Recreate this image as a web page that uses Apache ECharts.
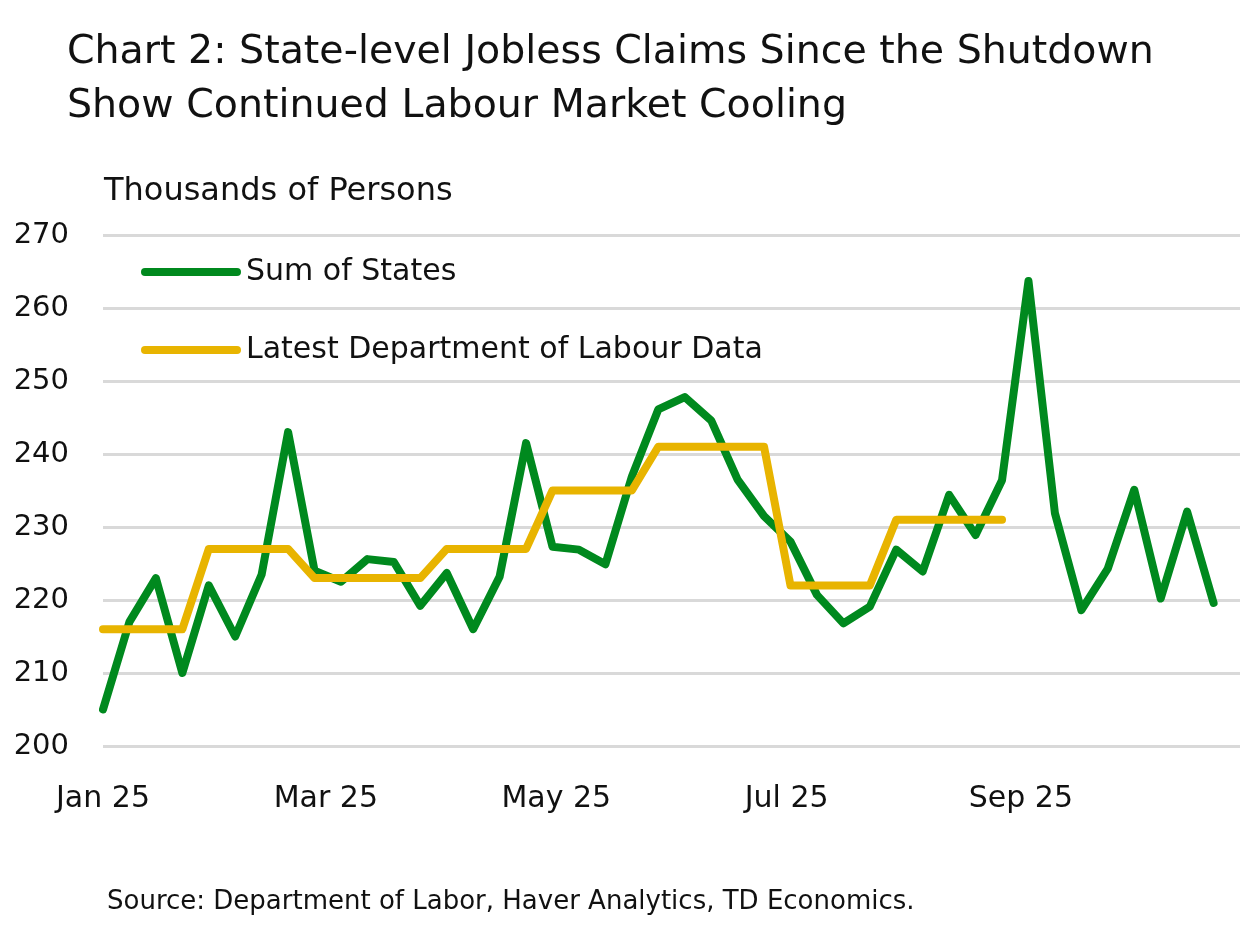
<!DOCTYPE html>
<html>
<head>
<meta charset="utf-8">
<script src="https://cdn.jsdelivr.net/npm/echarts@6/dist/echarts.min.js"></script>
<style>html,body{margin:0;padding:0;background:#fff}#c{width:1240px;height:925px}</style>
</head>
<body>
<div id="c"></div>
<script>
// Weekly observations (chart positions weeks from Jan 1, 2025)
const weekDates = [
  '2025-01-01','2025-01-08','2025-01-15','2025-01-22','2025-01-29','2025-02-05','2025-02-12','2025-02-19',
  '2025-02-26','2025-03-05','2025-03-12','2025-03-19','2025-03-26','2025-04-02','2025-04-09','2025-04-16',
  '2025-04-23','2025-04-30','2025-05-07','2025-05-14','2025-05-21','2025-05-28','2025-06-04','2025-06-11',
  '2025-06-18','2025-06-25','2025-07-02','2025-07-09','2025-07-16','2025-07-23','2025-07-30','2025-08-06',
  '2025-08-13','2025-08-20','2025-08-27','2025-09-03','2025-09-10','2025-09-17','2025-09-24','2025-10-01',
  '2025-10-08','2025-10-15','2025-10-22'
];
const sumOfStates = [
  205, 217, 223, 210, 222, 215, 223.5, 243, 224, 222.5, 225.6, 225.2, 219.2, 223.7, 216, 223.2,
  241.5, 227.3, 226.9, 224.9, 236.9, 246.1, 247.8, 244.6, 236.5, 231.5, 228, 220.7, 216.8, 219.1,
  226.9, 223.9, 234.4, 228.9, 236.4, 263.7, 231.9, 218.6, 224.3, 235.1, 220.2, 232.1, 219.6
];
const latestDOL = [
  216, 216, 216, 216, 227, 227, 227, 227, 223, 223, 223, 223, 223, 227, 227, 227, 227,
  235, 235, 235, 235, 241, 241, 241, 241, 241, 222, 222, 222, 222, 231, 231, 231, 231, 231
];
const yTicks = { min: 200, max: 270, interval: 10 };
const monthNames = ['Jan','Feb','Mar','Apr','May','Jun','Jul','Aug','Sep','Oct','Nov','Dec'];

const FONT = 'DejaVu Sans';
const chart = echarts.init(document.getElementById('c'), null, { renderer: 'canvas' });
const legendIcon = 'path://M4,0 L96,0 A4,4 0 0 1 96,8 L4,8 A4,4 0 0 1 4,0 Z';

chart.setOption({
  animation: false,
  backgroundColor: '#ffffff',
  textStyle: { fontFamily: FONT },
  title: {
    text: 'Chart 2: State-level Jobless Claims Since the Shutdown\nShow Continued Labour Market Cooling',
    left: 62, top: 21,
    textStyle: { fontFamily: FONT, fontSize: 39.5, fontWeight: 'normal', color: '#111', lineHeight: 54 }
  },
  legend: {
    orient: 'vertical', left: 136, top: 252,
    itemWidth: 100, itemHeight: 8, itemGap: 48,
    data: [
      { name: 'Sum of States', icon: legendIcon, itemStyle: { color: '#00891E' } },
      { name: 'Latest Department of Labour Data', icon: legendIcon, itemStyle: { color: '#E8B400' } }
    ],
    textStyle: { fontFamily: FONT, fontSize: 30, color: '#111', padding: [0, 0, 0, 0] }
  },
  graphic: [
    { type: 'text', left: 104, top: 176, style: { text: 'Thousands of Persons', font: '32px "DejaVu Sans"', fill: '#111' } },
    { type: 'text', left: 107, top: 889, style: { text: 'Source: Department of Labor, Haver Analytics, TD Economics.', font: '26px "DejaVu Sans"', fill: '#111' } }
  ],
  grid: { left: 103, right: 0, top: 235, bottom: 179, containLabel: false },
  xAxis: {
    type: 'time',
    min: '2025-01-01', max: '2025-10-29',
    splitNumber: 10,
    axisLine: { show: false }, axisTick: { show: false }, splitLine: { show: false },
    axisLabel: {
      margin: 38, fontSize: 30, color: '#111', fontFamily: FONT, hideOverlap: false,
      formatter: function (v) {
        const d = new Date(v);
        const m = d.getMonth();
        if (d.getDate() !== 1 || m % 2 !== 0) return '';
        return monthNames[m] + ' ' + String(d.getFullYear()).slice(2);
      }
    }
  },
  yAxis: {
    type: 'value', min: yTicks.min, max: yTicks.max, interval: yTicks.interval,
    axisLine: { show: false }, axisTick: { show: false },
    axisLabel: { margin: 34, fontSize: 29, color: '#111', fontFamily: FONT },
    splitLine: { lineStyle: { color: '#D9D9D9', width: 3 } }
  },
  series: [
    {
      name: 'Sum of States', type: 'line', symbol: 'none', z: 2,
      data: weekDates.map((d, i) => [d, sumOfStates[i]]),
      lineStyle: { color: '#00891E', width: 8, cap: 'round', join: 'round' },
      itemStyle: { color: '#00891E' }
    },
    {
      name: 'Latest Department of Labour Data', type: 'line', symbol: 'none', z: 3,
      data: latestDOL.map((v, i) => [weekDates[i], v]),
      lineStyle: { color: '#E8B400', width: 8, cap: 'round', join: 'round' },
      itemStyle: { color: '#E8B400' }
    }
  ]
});
</script>
</body>
</html>
